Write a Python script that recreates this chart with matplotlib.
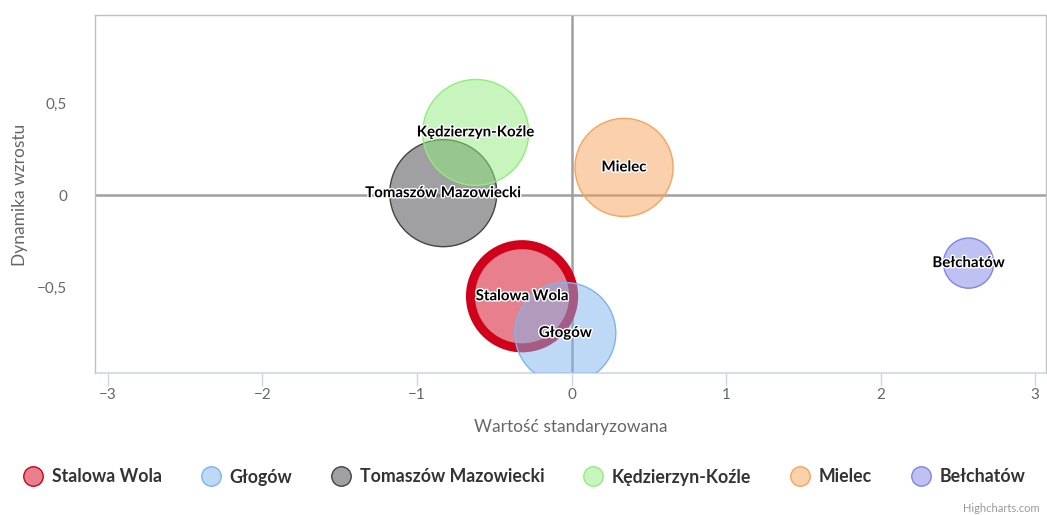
import numpy as np
import matplotlib
matplotlib.use("Agg")
from matplotlib import pyplot as plt
from matplotlib import patheffects as pe
from matplotlib.lines import Line2D

plt.rcParams['font.family'] = ['Lato', 'DejaVu Sans']

# data
cities = ['Stalowa Wola', 'Głogów', 'Tomaszów Mazowiecki', 'Kędzierzyn-Koźle', 'Mielec', 'Bełchatów']
x_vals = [-0.32, -0.04, -0.83, -0.62, 0.34, 2.57]
y_vals = [-0.55, -0.75, 0.01, 0.34, 0.15, -0.37]
z_vals = [0.93, 0.89, 1.0, 0.98, 0.84, 0.22]

colors = ['#d0021b', '#7cb5ec', '#434348', '#90ed7d', '#f7a35c', '#8085e9']
x_ticks = [-3, -2, -1, 0, 1, 2, 3]
y_ticks = [-0.5, 0, 0.5]
y_tick_labels = ['\u22120,5', '0', '0,5']

W, H = 1047, 515
fig = plt.figure(figsize=(W / 100, H / 100), dpi=100)
L, R, T, B = 95, 1046, 15, 373
ax = fig.add_axes([L / W, 1 - B / H, (R - L) / W, (B - T) / H])
ax.set_xlim(-3.084, 3.071)
ax.set_ylim(-0.967, 0.978)

# zero plot lines
ax.axhline(0, color='#a0a0a0', lw=1.8, zorder=1)
ax.axvline(0, color='#a0a0a0', lw=1.8, zorder=1)

max_r = 53.5  # px radius of largest bubble
for i, (c, x, y, z) in enumerate(zip(cities, x_vals, y_vals, z_vals)):
    r = max_r * np.sqrt(z)
    s = (2 * r * 0.72) ** 2
    if i == 0:
        ax.scatter([x], [y], s=s, color=colors[i], alpha=0.5, lw=0, zorder=3)
        ax.scatter([x], [y], s=s, facecolor='none', edgecolor=colors[i], lw=6.5, zorder=3)
    else:
        ax.scatter([x], [y], s=s, facecolor=colors[i], alpha=0.5, edgecolor='none', zorder=3)
        ax.scatter([x], [y], s=s, facecolor='none', edgecolor=colors[i], lw=1, zorder=3)

for c, x, y in zip(cities, x_vals, y_vals):
    ax.text(x, y, c, ha='center', va='center', fontsize=10.8, fontweight='bold',
            color='black', zorder=5,
            path_effects=[pe.withStroke(linewidth=2, foreground='white')])

ax.set_xticks(x_ticks)
ax.set_xticklabels(['\u22123', '\u22122', '\u22121', '0', '1', '2', '3'])
ax.set_yticks(y_ticks)
ax.set_yticklabels(y_tick_labels)
ax.tick_params(axis='x', colors='#ccd6eb', length=9, width=1, labelcolor='#666666',
               labelsize=11, pad=2)
ax.tick_params(axis='y', length=0, labelcolor='#666666', labelsize=11, pad=20)

for side in ['top', 'left', 'right']:
    ax.spines[side].set_color('#c0c0c0')
    ax.spines[side].set_linewidth(1)
ax.spines['bottom'].set_color('#ccd6eb')
ax.spines['bottom'].set_linewidth(1.2)

fig.text(571 / W, 1 - 427 / H, 'Wartość standaryzowana', ha='center', va='center',
         fontsize=12.5, color='#666666')
fig.text(20 / W, 1 - 195 / H, 'Dynamika wzrostu', ha='center', va='center',
         fontsize=12.5, color='#666666', rotation=90)

handles = [Line2D([], [], marker='o', ls='none', markersize=14,
                  markerfacecolor=matplotlib.colors.to_rgba(col, 0.5),
                  markeredgecolor=col, markeredgewidth=1) for col in colors]
leg = fig.legend(handles, cities, loc='center', bbox_to_anchor=(524 / W, 1 - 477 / H),
                 ncol=6, frameon=False, handletextpad=0.45, columnspacing=2.15,
                 prop={'size': 12.8, 'weight': 'bold'}, handlelength=1.2)
for t in leg.get_texts():
    t.set_color('#333333')

fig.text(1040 / W, 1 - 508 / H, 'Highcharts.com', ha='right', va='center',
         fontsize=8, color='#999999')

fig.savefig('out.png', dpi=100)
